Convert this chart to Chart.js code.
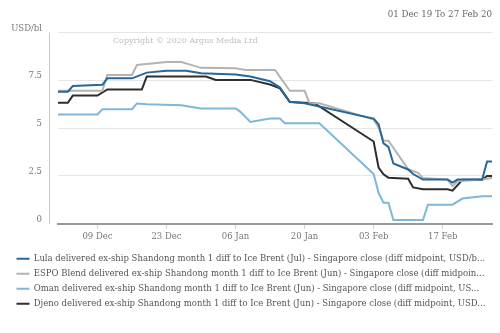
<!DOCTYPE html>
<html>
<head>
<meta charset="utf-8">
<script src="https://cdn.jsdelivr.net/npm/chart.js@4/dist/chart.umd.min.js"></script>
<style>
html, body { margin: 0; padding: 0; background: #fff; }
#wrap { width: 500px; height: 333px; }
</style>
</head>
<body>
<div id="wrap"><canvas id="diffChart"></canvas></div>
<script>
// Shandong delivered crude diffs vs Ice Brent, 01 Dec 19 - 27 Feb 20
// x values are days counted from 01 Dec 2019

Chart.defaults.font.family = '"DejaVu Serif", "Liberation Serif", serif';
Chart.defaults.font.size = 8.5;
Chart.defaults.color = '#666';

const colors = {
    lula: '#2a6799',
    espo: '#b3b3b3',
    oman: '#7fb6d9',
    djeno: '#2e2e2e',
    grid: '#e6e6e6',
    axis: '#999999'
};

// Series names
const seriesNames = [
    'Lula delivered ex-ship Shandong month 1 diff to Ice Brent (Jul) - Singapore close (diff midpoint, USD/bl)',
    'ESPO Blend delivered ex-ship Shandong month 1 diff to Ice Brent (Jun) - Singapore close (diff midpoint, USD/bl)',
    'Oman delivered ex-ship Shandong month 1 diff to Ice Brent (Jun) - Singapore close (diff midpoint, USD/bl)',
    'Djeno delivered ex-ship Shandong month 1 diff to Ice Brent (Jun) - Singapore close (diff midpoint, USD/bl)'
];

// Lula
const lulaDays   = [0, 2, 3, 9, 10, 15, 18, 22, 26, 29, 36, 39, 43, 45, 47, 50, 64, 65, 66, 67, 68, 71, 72, 74, 79, 80, 81, 86, 87, 88];
const lulaValues = [6.9, 6.9, 7.2, 7.26, 7.6, 7.6, 7.9, 8.0, 8.0, 7.87, 7.8, 7.7, 7.45, 7.12, 6.37, 6.3, 5.5, 5.2, 4.2, 4.02, 3.15, 2.84, 2.6, 2.31, 2.31, 2.15, 2.31, 2.31, 3.25, 3.25];

// ESPO Blend
const espoDays   = [0, 9, 10, 15, 16, 22, 25, 29, 36, 38, 44, 47, 50, 51, 53, 64, 65, 66, 67, 71, 73, 74, 79, 80, 81, 86, 88];
const espoValues = [6.95, 6.95, 7.78, 7.78, 8.3, 8.45, 8.45, 8.15, 8.13, 8.04, 8.04, 6.95, 6.95, 6.3, 6.3, 5.45, 5.04, 4.34, 4.34, 2.86, 2.66, 2.4, 2.31, 1.96, 2.22, 2.31, 2.4];

// Oman
const omanDays   = [0, 8, 9, 15, 16, 18, 25, 29, 36, 37, 39, 43, 45, 46, 53, 64, 65, 66, 67, 68, 74, 75, 80, 82, 86, 88];
const omanValues = [5.71, 5.71, 5.99, 5.99, 6.29, 6.25, 6.2, 6.03, 6.03, 5.85, 5.32, 5.5, 5.5, 5.25, 5.25, 2.6, 1.62, 1.1, 1.1, 0.2, 0.2, 1.0, 1.0, 1.32, 1.44, 1.44];

// Djeno
const djenoDays   = [0, 2, 3, 8, 10, 17, 18, 30, 32, 39, 43, 45, 47, 52, 64, 65, 66, 67, 71, 72, 74, 79, 80, 82, 86, 87, 88];
const djenoValues = [6.32, 6.32, 6.7, 6.7, 7.02, 7.02, 7.7, 7.7, 7.52, 7.52, 7.28, 7.08, 6.37, 6.3, 4.3, 2.94, 2.59, 2.41, 2.35, 1.9, 1.8, 1.8, 1.73, 2.3, 2.3, 2.5, 2.5];

// Axis ticks
const xTickDays   = [8, 22, 36, 50, 64, 78];
const xTickLabels = ['09 Dec', '23 Dec', '06 Jan', '20 Jan', '03 Feb', '17 Feb'];
const yTickValues = [0, 2.5, 5, 7.5, 10];
const yUnitLabel = 'USD/bl';

const dateRange = '01 Dec 19 To 27 Feb 20';
const copyright = 'Copyright \u00a9 2020 Argus Media Ltd';

function toPoints(days, values) {
    return days.map((d, i) => ({ x: d, y: values[i] }));
}

function lineDataset(label, days, values, color) {
    return {
        label: label,
        data: toPoints(days, values),
        borderColor: color,
        backgroundColor: color,
        borderWidth: 2,
        pointRadius: 0,
        pointHoverRadius: 0,
        tension: 0,
        fill: false
    };
}

// Legend names are always shortened with an ellipsis to a fixed width
const measureCtx = document.createElement('canvas').getContext('2d');
function shortenToWidth(text, font, maxWidth) {
    measureCtx.font = font;
    let cut = text.length - 1;
    while (cut > 0 && measureCtx.measureText(text.substring(0, cut) + '...').width > maxWidth) {
        cut--;
    }
    return text.substring(0, cut) + '...';
}

// Offset y axis line and the copyright note
const decorations = {
    id: 'decorations',
    beforeDatasetsDraw(chart) {
        const { ctx, chartArea } = chart;
        ctx.save();
        ctx.strokeStyle = '#c8c8c8';
        ctx.lineWidth = 1;
        ctx.beginPath();
        ctx.moveTo(chartArea.left - 8.5, chartArea.top);
        ctx.lineTo(chartArea.left - 8.5, chartArea.bottom);
        ctx.stroke();

        ctx.fillStyle = '#bdbdbd';
        ctx.font = '8px "DejaVu Serif", serif';
        ctx.textBaseline = 'middle';
        ctx.fillText(copyright, 113, chartArea.top + 8);
        ctx.restore();
    }
};

function createChart() {
    const ctx = document.getElementById('diffChart');
    const legendFont = '8.5px "DejaVu Serif", serif';

    new Chart(ctx, {
        type: 'line',
        data: {
            datasets: [
                lineDataset(seriesNames[0], lulaDays, lulaValues, colors.lula),
                lineDataset(seriesNames[1], espoDays, espoValues, colors.espo),
                lineDataset(seriesNames[2], omanDays, omanValues, colors.oman),
                lineDataset(seriesNames[3], djenoDays, djenoValues, colors.djeno)
            ]
        },
        options: {
            responsive: true,
            maintainAspectRatio: false,
            animation: false,
            layout: {
                padding: { left: 10, right: 8, top: 4, bottom: 15 }
            },
            plugins: {
                tooltip: { enabled: false },
                title: {
                    display: true,
                    text: dateRange,
                    align: 'end',
                    color: '#666',
                    font: { size: 8.7, weight: 'normal' },
                    padding: { top: 6, bottom: 12 }
                },
                legend: {
                    display: true,
                    position: 'bottom',
                    align: 'start',
                    labels: {
                        usePointStyle: true,
                        pointStyle: 'line',
                        pointStyleWidth: 13,
                        padding: 6.5,
                        color: '#555',
                        font: { size: 8.5 },
                        generateLabels(chart) {
                            const items = Chart.defaults.plugins.legend.labels.generateLabels(chart);
                            items.forEach(item => {
                                item.text = shortenToWidth(item.text, legendFont, 452);
                            });
                            return items;
                        }
                    }
                }
            },
            scales: {
                x: {
                    type: 'linear',
                    min: 0,
                    max: 88,
                    afterBuildTicks(scale) {
                        scale.ticks = xTickDays.map(v => ({ value: v }));
                    },
                    afterFit(scale) {
                        scale.height += 3;
                    },
                    ticks: {
                        autoSkip: false,
                        maxRotation: 0,
                        padding: 3,
                        color: '#777',
                        callback(value) {
                            const i = xTickDays.indexOf(value);
                            return i >= 0 ? xTickLabels[i] : '';
                        }
                    },
                    grid: {
                        drawOnChartArea: false,
                        drawTicks: true,
                        tickLength: 5,
                        color: '#d0d0d0'
                    },
                    border: {
                        display: true,
                        color: colors.axis,
                        width: 2
                    }
                },
                y: {
                    min: 0,
                    max: 10,
                    afterBuildTicks(scale) {
                        scale.ticks = yTickValues.map(v => ({ value: v }));
                    },
                    afterFit(scale) {
                        scale.width = 48;
                    },
                    ticks: {
                        padding: 16,
                        labelOffset: -4,
                        color: '#777',
                        callback(value) {
                            return value === 10 ? yUnitLabel : String(value);
                        }
                    },
                    grid: {
                        color: colors.grid,
                        drawTicks: false
                    },
                    border: { display: false }
                }
            }
        },
        plugins: [decorations]
    });
}

createChart();
</script>
</body>
</html>
